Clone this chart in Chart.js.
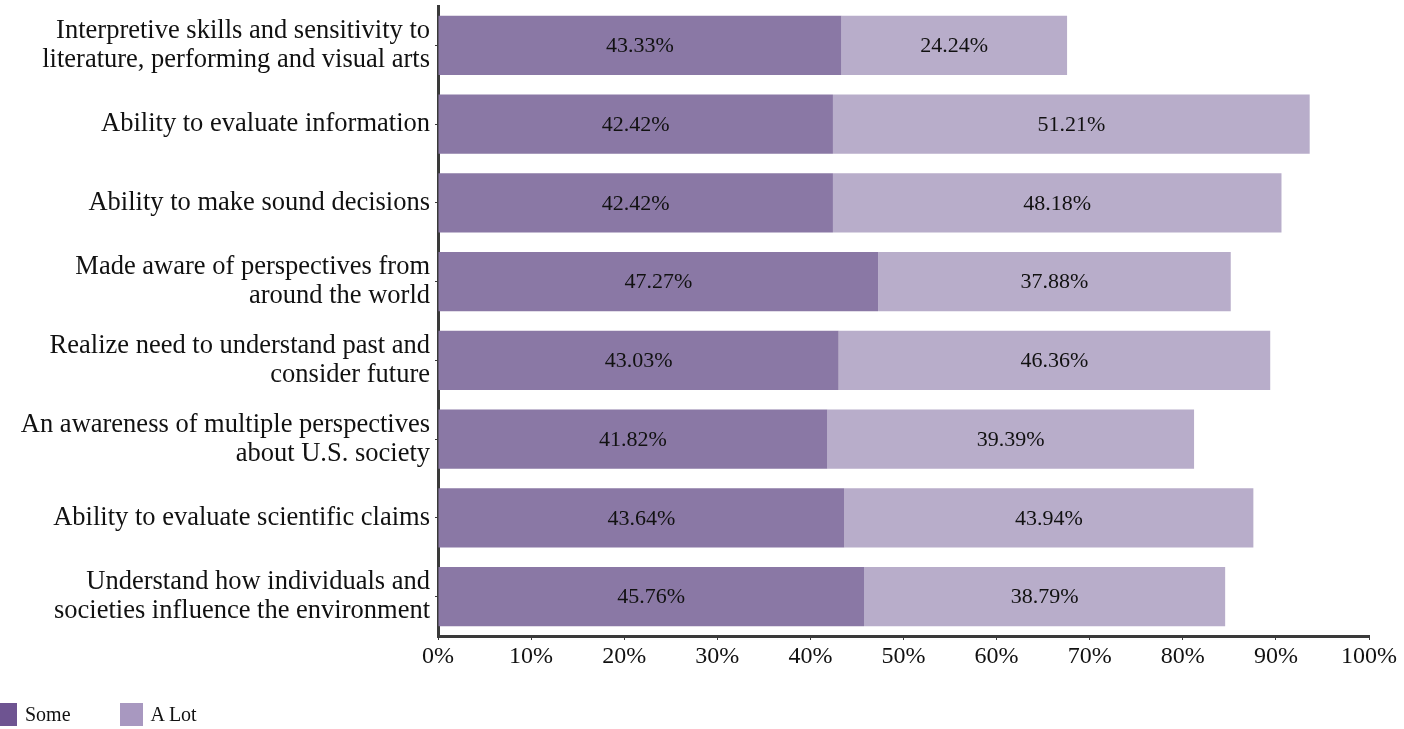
<!DOCTYPE html>
<html>
<head>
<meta charset="utf-8">
<script src="https://cdn.jsdelivr.net/npm/chart.js@4/dist/chart.umd.min.js"></script>
<style>
  html, body { margin: 0; padding: 0; background: #fff; }
  #wrap { position: relative; width: 1404px; height: 729px; }
  #legend { position: absolute; left: -6px; top: 703px; display: flex; align-items: center;
            font-family: 'Liberation Serif', 'Times New Roman', serif; font-size: 20px; color: #111; }
  #legend .item { display: flex; align-items: center; margin-right: 49px; }
  #legend .sw { width: 23px; height: 23px; margin-right: 8px; }
</style>
</head>
<body>
<div id="wrap">
  <canvas id="chart" width="1404" height="729"></canvas>
  <div id="legend"></div>
</div>
<script>
// categories, top to bottom
var categories = [
    ["Interpretive skills and sensitivity to", "literature, performing and visual arts"],
    "Ability to evaluate information",
    "Ability to make sound decisions",
    ["Made aware of perspectives from", "around the world"],
    ["Realize need to understand past and", "consider future"],
    ["An awareness of multiple perspectives", "about U.S. society"],
    "Ability to evaluate scientific claims",
    ["Understand how individuals and", "societies influence the environment"]
];
var someValues = [43.33, 42.42, 42.42, 47.27, 43.03, 41.82, 43.64, 45.76];
var aLotValues = [24.24, 51.21, 48.18, 37.88, 46.36, 39.39, 43.94, 38.79];
var seriesNames = ["Some", "A Lot"];
var barColors = ["#8a78a5", "#b8adca"];
var legendColors = ["#6e5491", "#a898c0"];
var xTicks = [0, 10, 20, 30, 40, 50, 60, 70, 80, 90, 100];

var FONT = "'Liberation Serif', 'Times New Roman', serif";

// values printed in the middle of each segment
var segmentLabels = {
    id: 'segmentLabels',
    afterDatasetsDraw: function(chart) {
        var ctx = chart.ctx;
        ctx.save();
        ctx.font = "22px " + FONT;
        ctx.fillStyle = "#111";
        ctx.textAlign = "center";
        ctx.textBaseline = "middle";
        chart.data.datasets.forEach(function(ds, di) {
            var meta = chart.getDatasetMeta(di);
            meta.data.forEach(function(bar, i) {
                var p = bar.getProps(['x', 'y', 'base'], true);
                ctx.fillText(ds.data[i].toFixed(2) + "%", (p.x + p.base) / 2, p.y + 1);
            });
        });
        ctx.restore();
    }
};

var chart = new Chart(document.getElementById("chart"), {
    type: 'bar',
    data: {
        labels: categories,
        datasets: [
            { label: seriesNames[0], data: someValues, backgroundColor: barColors[0] },
            { label: seriesNames[1], data: aLotValues, backgroundColor: barColors[1] }
        ]
    },
    options: {
        indexAxis: 'y',
        responsive: false,
        animation: false,
        categoryPercentage: 1.0,
        barPercentage: 0.75,
        layout: { padding: { top: 6, right: 35, bottom: 49, left: 0 } },
        plugins: {
            legend: { display: false },
            tooltip: { enabled: false }
        },
        scales: {
            x: {
                stacked: true,
                min: 0,
                max: 100,
                afterBuildTicks: function(scale) {
                    scale.ticks = xTicks.map(function(v) { return { value: v }; });
                },
                afterFit: function(scale) {
                    scale.height = 44;
                    scale.paddingLeft = 0;
                    scale.paddingRight = 0;
                },
                border: { display: true, color: "#3a3a3a", width: 3 },
                grid: { drawOnChartArea: false, drawTicks: true, tickLength: 4, color: "#3a3a3a" },
                ticks: {
                    color: "#111",
                    padding: 2,
                    maxRotation: 0,
                    font: { family: FONT, size: 24 },
                    callback: function(v) { return v + "%"; }
                }
            },
            y: {
                stacked: true,
                afterFit: function(scale) {
                    scale.width = 438;
                    scale.paddingTop = 0;
                    scale.paddingBottom = 0;
                },
                border: { display: true, color: "#3a3a3a", width: 3 },
                grid: { offset: false, drawOnChartArea: false, drawTicks: true, tickLength: 3, color: "#3a3a3a" },
                ticks: {
                    color: "#111",
                    padding: 5,
                    font: { family: FONT, size: 26.5, lineHeight: 1.1 }
                }
            }
        }
    },
    plugins: [segmentLabels]
});

// legend below the chart
var legend = document.getElementById("legend");
seriesNames.forEach(function(name, i) {
    var item = document.createElement("div");
    item.className = "item";
    item.innerHTML = "<div class=\"sw\" style=\"background:" + legendColors[i] + "\"></div><span>" + name + "</span>";
    legend.appendChild(item);
});
</script>
</body>
</html>
